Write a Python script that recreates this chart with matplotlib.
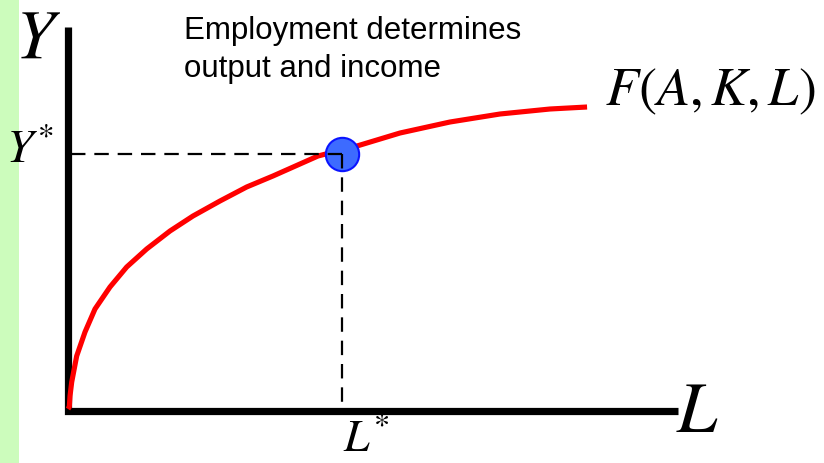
import numpy as np
import matplotlib.pyplot as plt
from matplotlib.patches import Rectangle

plt.rcParams['mathtext.fontset'] = 'stix'

# Production function (arbitrary units, L and Y from 0 to 10)
labour = [0.0, 0.025, 0.039, 0.072, 0.168, 0.329, 0.522, 0.812, 1.135, 1.522,
          1.973, 2.418, 2.940, 3.456, 3.965, 4.487, 4.836, 5.590, 6.422, 7.389,
          8.356, 9.323, 10.04]
output = [0.0, 0.066, 0.43, 0.891, 1.749, 2.541, 3.300, 4.026, 4.686, 5.281,
          5.875, 6.370, 6.865, 7.327, 7.690, 8.086, 8.350, 8.680, 9.109, 9.472,
          9.736, 9.901, 9.967]

# Equilibrium point
L_star = 5.30
Y_star = 8.42

# Axis extents
y_top = 12.6
x_right = 11.8

W, H = 824, 464
fig = plt.figure(figsize=(W / 100, H / 100), dpi=100)
ax = fig.add_axes([0, 0, 1, 1])
# 51.7 px per L unit, 30.3 px per Y unit, origin at pixel (68, 410)
ax.set_xlim(-68 / 51.7, (W - 68) / 51.7)
ax.set_ylim((410 - H) / 30.3, 410 / 30.3)
ax.axis('off')

# Green strip at the left edge
fig.patches.append(Rectangle((0, 0), 19 / W, 1, transform=fig.transFigure,
                             facecolor='#ccfcbc', edgecolor='none', zorder=0))

# Axes drawn as one thick L-shaped line
ax.plot([0, 0, x_right], [y_top, -0.05, -0.05], color='black', lw=5.2,
        solid_joinstyle='miter', solid_capstyle='butt', zorder=2)

# Curve
ax.plot(labour, output, color='#ff0000', lw=3.7, solid_capstyle='butt',
        solid_joinstyle='round', zorder=3)

# Equilibrium dot
ax.plot([L_star], [Y_star], 'o', ms=24, mfc='#3d6bff', mec='#0a14ff', mew=1.5, zorder=4)

# Dashed guides
ax.plot([0.05, L_star], [Y_star, Y_star], color='black', lw=1.6,
        dashes=(6.5, 4), zorder=5)
ax.plot([L_star, L_star], [Y_star, 0.05], color='black', lw=1.6,
        dashes=(6.5, 4), zorder=5)


def px(x, y):
    return x / W, 1 - y / H


fig.text(*px(38, 58), r'$Y$', fontsize=50, ha='center', va='baseline')
fig.text(*px(54, 163), r'$Y^{*}$', fontsize=34, ha='right', va='baseline')
fig.text(*px(676, 432), r'$L$', fontsize=52, ha='left', va='baseline')
fig.text(*px(366, 452), r'$L^{*}$', fontsize=33, ha='center', va='baseline')
fig.text(*px(605, 105), r'$F(A,K,L)$', fontsize=39, ha='left', va='baseline')
fig.text(*px(184, 77), 'Employment determines\noutput and income',
         fontsize=22.5, family='Liberation Sans', ha='left', va='baseline',
         linespacing=1.35)

fig.savefig('out.png', dpi=100)
